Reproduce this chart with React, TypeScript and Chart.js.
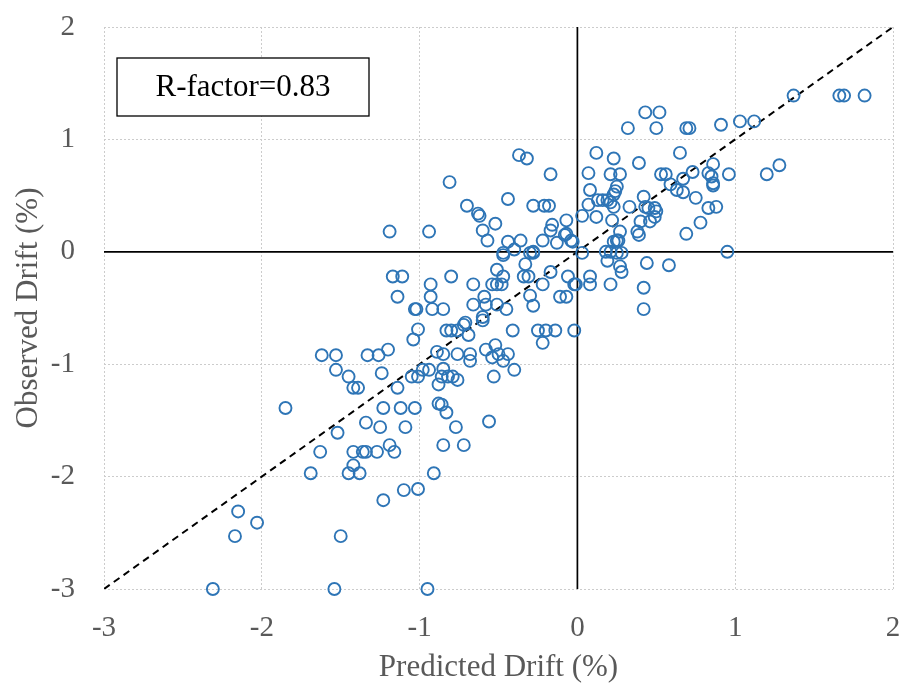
import { useEffect, useRef } from 'react';
import { Chart, registerables } from 'chart.js';

Chart.register(...registerables);

// Predicted drift (%) — x values of each measured specimen
const predictedDrift = [
  -1.62, -1.53, -1.33, -1.26, -1.20, -1.53, -1.45, -1.42, -1.39, -1.24,
  -1.14, -1.85, -1.23, -1.12, -1.34, -1.25, -1.09, -1.52, -1.63, -1.42,
  -1.36, -1.34, -1.27, -1.19, -1.16, -1.42, -1.45, -1.38, -1.69, -1.10,
  -1.23, -2.15, -2.03, -2.17, -1.50, -2.31, -1.54, -0.95, -1.01, -1.04,
  -0.83, -0.80, -0.76, -0.72, -0.69, -0.60, -0.41, -0.25, -0.20, -0.14,
  -0.02, -0.22, -0.89, -0.85, -0.76, -0.68, -0.68, -0.58, -0.52, -0.54,
  -0.50, -0.47, -0.44, -0.40, -0.53, -1.05, -1.01, -0.98, -0.94, -0.85,
  -0.86, -0.82, -0.79, -0.76, -0.88, -1.03, -0.88, -0.86, -0.83, -0.77,
  -0.56, -0.85, -0.72, -0.91, -1.01, -0.37, -0.32, -0.17, -0.81, -0.44,
  -0.70, -0.63, -0.62, -0.52, -0.28, -0.21, -0.18, -0.60, -0.57, -0.07,
  -0.16, -0.17, -0.22, -0.13, -0.08, -0.04, -0.03, 0.03, 0.07, 0.08,
  0.07, 0.12, 0.12, -1.19, -0.94, -0.44, -0.36, -0.47, -0.47, -0.40,
  -0.30, -0.28, -0.28, -0.33, 0.03, -0.51, -1.17, -1.11, -0.93, -0.80,
  -0.66, -0.54, -0.51, -0.48, -0.47, -0.34, -0.31, -0.17, -0.22, -0.06,
  -0.02, -0.01, 0.08, 0.08, -1.14, -0.93, -0.59, -0.30, -0.11, -0.07,
  -1.03, -1.02, -0.92, -0.85, -0.66, -0.58, -0.51, -0.45, -0.28, -0.60,
  -0.71, 1.37, 1.66, 1.69, 1.82, 1.03, 1.12, 0.91, 0.43, 0.52,
  0.32, 0.50, 0.69, 0.71, 0.23, 0.39, 0.65, 0.86, 0.21, 0.27,
  0.53, 0.56, 0.73, 0.83, 0.85, 0.86, 0.86, 0.96, 1.20, 1.28,
  0.25, 0.24, 0.23, 0.16, 0.19, 0.21, 0.42, 0.59, 0.63, 0.67,
  0.67, 0.75, 0.23, 0.33, 0.43, 0.45, 0.49, 0.50, 0.22, 0.40,
  0.46, 0.49, 0.83, 0.88, 0.78, 0.69, 0.27, 0.38, 0.39, -0.07,
  0.25, 0.23, 0.26, 0.18, 0.21, 0.25, 0.28, 0.19, 0.95, 0.44,
  0.58, 0.27, 0.28, 0.42, 0.42, 0.21, 0.13,
];

// Observed drift (%) — y values, same order as predictedDrift
const observedDrift = [
  -0.92, -0.92, -0.92, -0.92, -0.87, -1.05, -1.11, -1.21, -1.21, -1.08,
  -1.21, -1.39, -1.39, -1.39, -1.52, -1.56, -1.56, -1.61, -1.78, -1.78,
  -1.78, -1.78, -1.78, -1.72, -1.78, -1.90, -1.97, -1.97, -1.97, -2.12,
  -2.21, -2.31, -2.41, -2.53, -2.53, -3.00, -3.00, -3.00, -0.69, -0.78,
  -0.70, -0.70, -0.70, -0.65, -0.74, -0.61, -0.70, -0.70, -0.70, -0.70,
  -0.70, -0.81, -0.89, -0.91, -0.91, -0.91, -0.97, -0.87, -0.83, -0.94,
  -0.91, -0.97, -0.91, -1.05, -1.11, -1.11, -1.11, -1.05, -1.05, -1.04,
  -1.11, -1.11, -1.11, -1.14, -1.18, -1.39, -1.35, -1.36, -1.43, -1.56,
  -1.51, -1.72, -1.72, -1.97, -2.11, 0.86, 0.83, 0.69, 0.62, 0.47,
  0.41, 0.34, 0.32, 0.25, 0.41, 0.41, 0.41, 0.19, 0.10, 0.28,
  0.24, 0.19, 0.10, 0.08, 0.15, 0.10, 0.09, 0.32, 0.70, 0.55,
  0.42, 0.88, 0.31, 0.18, 0.18, 0.09, 0.10, -0.01, -0.03, 0.02,
  -0.01, -0.01, 0.00, -0.11, -0.01, -0.16, -0.22, -0.22, -0.29, -0.22,
  -0.29, -0.29, -0.29, -0.29, -0.22, -0.22, -0.22, -0.18, -0.29, -0.22,
  -0.29, -0.29, -0.22, -0.29, -0.40, -0.40, -0.40, -0.39, -0.40, -0.40,
  -0.51, -0.51, -0.51, -0.51, -0.47, -0.47, -0.47, -0.51, -0.48, -0.58,
  -0.63, 1.39, 1.39, 1.39, 1.39, 1.16, 1.16, 1.13, 1.24, 1.24,
  1.10, 1.10, 1.10, 1.10, 0.83, 0.79, 0.88, 0.78, 0.69, 0.69,
  0.69, 0.69, 0.71, 0.70, 0.67, 0.61, 0.59, 0.69, 0.69, 0.77,
  0.58, 0.54, 0.51, 0.46, 0.46, 0.44, 0.49, 0.60, 0.55, 0.65,
  0.53, 0.48, 0.40, 0.40, 0.40, 0.39, 0.39, 0.36, 0.28, 0.27,
  0.27, 0.31, 0.39, 0.40, 0.26, 0.16, 0.18, 0.18, 0.15, 0.16,
  0.10, 0.09, 0.10, 0.00, 0.00, -0.01, -0.01, -0.08, 0.00, -0.10,
  -0.12, -0.13, -0.18, -0.32, -0.51, -0.29, 0.46,
];

const axisMin = -3;
const axisMax = 2;
const axisStep = 1;
const rFactorLabel = 'R-factor=0.83';
const xTitle = 'Predicted Drift (%)';
const yTitle = 'Observed Drift (%)';

const SERIF = '"Liberation Serif", "Times New Roman", serif';
const GRAY = '#595959';

export default function App() {
  const ref = useRef<HTMLCanvasElement>(null);

  useEffect(() => {
    document.body.style.margin = '0';
    const canvas = ref.current;
    if (!canvas) return;

    const points = predictedDrift.map((x, i) => ({ x, y: observedDrift[i] }));

    const boxPlugin = {
      id: 'rFactorBox',
      afterDatasetsDraw(chart: any) {
        const { ctx, chartArea } = chart;
        const x = chartArea.left + 13;
        const y = chartArea.top + 31;
        const w = 252;
        const h = 58;
        ctx.save();
        ctx.fillStyle = '#ffffff';
        ctx.fillRect(x, y, w, h);
        ctx.strokeStyle = '#000000';
        ctx.lineWidth = 1.3;
        ctx.strokeRect(x, y, w, h);
        ctx.fillStyle = '#000000';
        ctx.font = `31px ${SERIF}`;
        ctx.textAlign = 'center';
        ctx.textBaseline = 'middle';
        ctx.fillText(rFactorLabel, x + w / 2, y + h / 2 + 1);
        ctx.restore();
      },
    };

    const tickFont = { family: SERIF, size: 29 };
    const titleFont = { family: SERIF, size: 31 };

    const chart = new Chart(canvas, {
      type: 'scatter',
      data: {
        datasets: [
          {
            type: 'line',
            data: [{ x: axisMin, y: axisMin }, { x: axisMax, y: axisMax }],
            borderColor: '#000000',
            borderWidth: 2,
            borderDash: [7, 5],
            pointRadius: 0,
            fill: false,
            order: 2,
          } as any,
          {
            type: 'line',
            data: [{ x: 0, y: axisMin }, { x: 0, y: axisMax }],
            borderColor: '#000000',
            borderWidth: 1.7,
            pointRadius: 0,
            fill: false,
            order: 1,
          } as any,
          {
            type: 'line',
            data: [{ x: axisMin, y: 0 }, { x: axisMax, y: 0 }],
            borderColor: '#000000',
            borderWidth: 1.7,
            pointRadius: 0,
            fill: false,
            order: 1,
          } as any,
          {
            data: points,
            pointRadius: 6,
            pointHoverRadius: 6,
            pointBorderColor: '#2E75B6',
            pointBackgroundColor: 'rgba(0,0,0,0)',
            pointBorderWidth: 1.9,
            clip: false,
            order: 0,
          } as any,
        ],
      },
      options: {
        responsive: false,
        animation: false,
        layout: { padding: { top: 27, right: 10, left: 0, bottom: 0 } },
        plugins: {
          legend: { display: false },
          tooltip: { enabled: false },
        },
        scales: {
          x: {
            type: 'linear',
            min: axisMin,
            max: axisMax,
            ticks: { stepSize: axisStep, color: GRAY, font: tickFont, padding: 22 },
            grid: { color: '#cccccc', lineWidth: 1, drawTicks: false },
            border: { display: false, dash: [2, 2] },
            title: {
              display: true,
              text: xTitle,
              color: GRAY,
              font: titleFont,
              padding: { top: 0, bottom: 0 },
            },
            afterFit(scale: any) {
              scale.height = 97;
              scale.paddingLeft = 0;
              scale.paddingRight = 0;
            },
          },
          y: {
            type: 'linear',
            min: axisMin,
            max: axisMax,
            ticks: { stepSize: axisStep, color: GRAY, font: tickFont, padding: 29 },
            grid: { color: '#cccccc', lineWidth: 1, drawTicks: false },
            border: { display: false, dash: [2, 2] },
            title: {
              display: true,
              text: yTitle,
              color: GRAY,
              font: titleFont,
              padding: { top: 10, bottom: 0 },
            },
            afterFit(scale: any) {
              scale.width = 104;
              scale.paddingTop = 0;
              scale.paddingBottom = 0;
            },
          },
        },
      } as any,
      plugins: [boxPlugin],
    });

    return () => {
      chart.destroy();
    };
  }, []);

  return (
    <div style={{ width: 903, height: 686, background: '#ffffff' }}>
      <canvas ref={ref} width={903} height={686} style={{ display: 'block' }} />
    </div>
  );
}
